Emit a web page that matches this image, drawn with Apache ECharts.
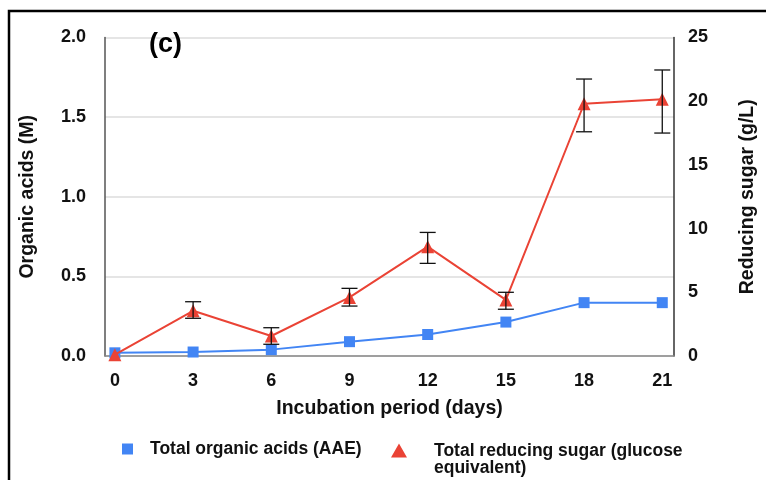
<!DOCTYPE html>
<html><head><meta charset="utf-8">
<script src="https://cdn.jsdelivr.net/npm/echarts@6/dist/echarts.min.js"></script>
<style>html,body{margin:0;padding:0;background:#fff}#c{width:766px;height:480px}</style>
</head><body><div id="c"></div>
<script>
var days = [0, 3, 6, 9, 12, 15, 18, 21];
var xTicks = [0, 3, 6, 9, 12, 15, 18, 21];
var organicAcids = [0.02, 0.025, 0.04, 0.09, 0.135, 0.213, 0.335, 0.335];
var reducingSugar = [0.1, 3.55, 1.57, 4.6, 8.58, 4.4, 19.8, 20.15];
var sugarLow = [null, 2.96, 0.92, 3.92, 7.27, 3.67, 17.6, 17.5];
var sugarHigh = [null, 4.26, 2.22, 5.31, 9.7, 5.0, 21.74, 22.45];
var leftTicks = [0, 0.5, 1.0, 1.5, 2.0];
var rightTicks = [0, 5, 10, 15, 20, 25];

var FONT = '"Liberation Sans", Arial, sans-serif';
var chart = echarts.init(document.getElementById('c'));

function errItem(params, api) {
  var x = api.value(0), lo = api.value(1), hi = api.value(2);
  var pLo = api.coord([x, lo]), pHi = api.coord([x, hi]);
  var w = 8;
  var st = {stroke: '#111', lineWidth: 1.3};
  return {type: 'group', children: [
    {type: 'line', shape: {x1: pLo[0], y1: pLo[1], x2: pHi[0], y2: pHi[1]}, style: st},
    {type: 'line', shape: {x1: pLo[0]-w, y1: pLo[1], x2: pLo[0]+w, y2: pLo[1]}, style: st},
    {type: 'line', shape: {x1: pHi[0]-w, y1: pHi[1], x2: pHi[0]+w, y2: pHi[1]}, style: st}
  ]};
}

var errData = [];
days.forEach(function (d, i) { if (sugarLow[i] != null) errData.push([d, sugarLow[i], sugarHigh[i]]); });

chart.setOption({
  animation: false,
  backgroundColor: '#fff',
  grid: {left: 105, right: 92, top: 37.5, bottom: 124},
  graphic: [
    {type: 'rect', shape: {x: 9, y: 11, width: 800, height: 520}, style: {fill: 'none', stroke: '#000', lineWidth: 2.5}, z: 100},
    {type: 'text', left: 149, top: 31, style: {text: '(c)', font: 'bold 27px ' + FONT, fill: '#000'}, z: 100}
  ],
  legend: [
    {data: ['Total organic acids (AAE)'], left: 117, top: 435, itemWidth: 11, itemHeight: 11, itemGap: 10,
     icon: 'rect',
     textStyle: {fontFamily: FONT, fontWeight: 'bold', fontSize: 17.5, color: '#111', padding: [0,0,0,12]}},
    {data: ['Total reducing sugar (glucose equivalent)'], left: 386, top: 437, itemWidth: 16, itemHeight: 32,
     icon: 'path://M8,0 L16,14 L0,14 Z M0,32 L0.01,32 L0,32.01 Z',
     formatter: function () { return 'Total reducing sugar (glucose\nequivalent)'; },
     textStyle: {fontFamily: FONT, fontWeight: 'bold', fontSize: 17.5, color: '#111', lineHeight: 17, padding: [0,0,0,22]}}
  ],
  xAxis: {
    type: 'value', min: -0.38, max: 21.45,
    name: 'Incubation period (days)', nameLocation: 'middle', nameGap: 43,
    nameTextStyle: {fontFamily: FONT, fontWeight: 'bold', fontSize: 19.5, color: '#111'},
    axisLine: {show: true, onZero: false, lineStyle: {color: '#888', width: 1.5}},
    axisTick: {show: false},
    splitLine: {show: false},
    axisLabel: {customValues: xTicks, margin: 16, fontFamily: FONT, fontWeight: 'bold', fontSize: 18, color: '#111'}
  },
  yAxis: [
    {type: 'value', min: 0, max: 2, interval: 0.5, position: 'left',
     name: 'Organic acids (M)', nameLocation: 'middle', nameGap: 67, nameRotate: 90,
     nameTextStyle: {fontFamily: FONT, fontWeight: 'bold', fontSize: 19.5, color: '#111'},
     axisLine: {show: true, onZero: false, lineStyle: {color: '#555', width: 1.5}},
     axisTick: {show: false},
     splitLine: {show: true, lineStyle: {color: '#ddd', width: 1.5}},
     axisLabel: {margin: 19, fontFamily: FONT, fontWeight: 'bold', fontSize: 18, color: '#111',
       formatter: function (v) { return v.toFixed(1); }}},
    {type: 'value', min: 0, max: 25, interval: 5, position: 'right',
     name: 'Reducing sugar (g/L)', nameLocation: 'middle', nameGap: 64, nameRotate: 90,
     nameTextStyle: {fontFamily: FONT, fontWeight: 'bold', fontSize: 19.5, color: '#111'},
     axisLine: {show: true, onZero: false, lineStyle: {color: '#333', width: 1.5}},
     axisTick: {show: false},
     splitLine: {show: false},
     axisLabel: {margin: 14, fontFamily: FONT, fontWeight: 'bold', fontSize: 18, color: '#111'}}
  ],
  series: [
    {name: 'Total organic acids (AAE)', type: 'line', yAxisIndex: 0,
     data: days.map(function (d, i) { return [d, organicAcids[i]]; }),
     symbol: 'rect', symbolSize: 11, color: '#4285F4',
     lineStyle: {width: 2, color: '#4285F4'}, itemStyle: {color: '#4285F4'}, z: 3},
    {name: 'Total reducing sugar (glucose equivalent)', type: 'line', yAxisIndex: 1,
     data: days.map(function (d, i) { return [d, reducingSugar[i]]; }),
     symbol: 'triangle', symbolSize: 13, color: '#EA4335',
     lineStyle: {width: 2, color: '#EA4335'}, itemStyle: {color: '#EA4335'}, z: 4},
    {type: 'custom', yAxisIndex: 1, renderItem: errItem, data: errData, z: 5, silent: true}
  ]
});
</script>
</body></html>
